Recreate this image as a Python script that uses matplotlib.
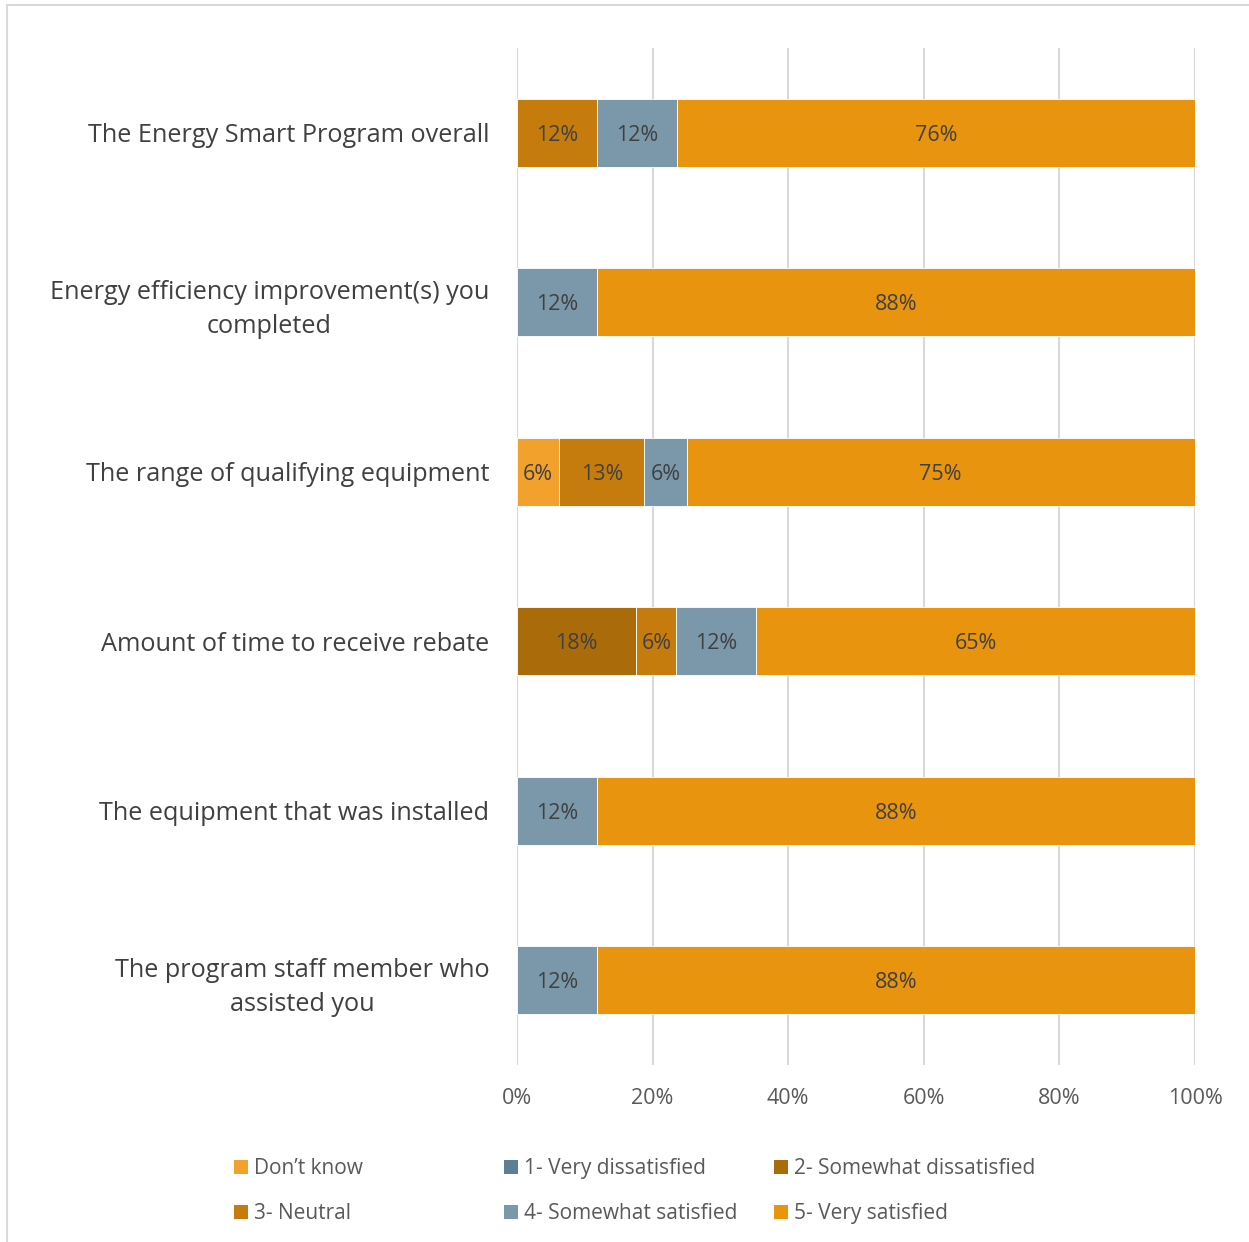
import math
import matplotlib
matplotlib.use("Agg")
import matplotlib.pyplot as plt
from matplotlib.patches import Patch
from matplotlib.lines import Line2D

plt.rcParams['font.family'] = ['Open Sans', 'DejaVu Sans']

# Data (percent of respondents)
categories = [
    "The Energy Smart Program overall",
    "Energy efficiency improvement(s) you\ncompleted",
    "The range of qualifying equipment",
    "Amount of time to receive rebate",
    "The equipment that was installed",
    "The program staff member who\nassisted you",
]
series_names = ["Don\u2019t know", "1- Very dissatisfied", "2- Somewhat dissatisfied",
                "3- Neutral", "4- Somewhat satisfied", "5- Very satisfied"]
dont_know = [0, 0, 6.25, 0, 0, 0]
very_dissatisfied = [0, 0, 0, 0, 0, 0]
somewhat_dissatisfied = [0, 0, 0, 17.6, 0, 0]
neutral = [11.8, 0, 12.5, 5.9, 0, 0]
somewhat_satisfied = [11.8, 11.8, 6.25, 11.8, 11.8, 11.8]
very_satisfied = [76.4, 88.2, 75.0, 64.7, 88.2, 88.2]
xticks = [0, 20, 40, 60, 80, 100]

series = [dont_know, very_dissatisfied, somewhat_dissatisfied,
          neutral, somewhat_satisfied, very_satisfied]
colors = ["#F2A22C", "#5B7F93", "#AA6C0B", "#C67C0D", "#7A98AA", "#E8940F"]

fig = plt.figure(figsize=(12.49, 12.42), dpi=100)
ax = fig.add_axes([517 / 1249, 1 - 1065 / 1242, 678 / 1249, 1017 / 1242])

ypos = list(range(len(categories)))
left = [0.0] * len(categories)
for vals, col in zip(series, colors):
    ax.barh(ypos, vals, left=left, height=0.4, color=col,
            edgecolor="white", linewidth=0.6, zorder=3)
    for i, v in enumerate(vals):
        if v > 0:
            ax.text(left[i] + v / 2, i, f"{int(math.floor(v + 0.5))}%",
                    ha="center", va="center_baseline", fontsize=15.5,
                    color="#404040", zorder=4)
    left = [l + v for l, v in zip(left, vals)]

ax.set_xlim(0, 100)
ax.set_ylim(len(categories) - 0.5, -0.5)
ax.set_xticks(xticks)
ax.set_xticklabels([f"{t}%" for t in xticks])
ax.set_yticks(ypos)
ax.set_yticklabels(categories, fontsize=18.2, color="#404040")
ax.tick_params(axis="x", length=0, pad=16.5, labelsize=15.5, labelcolor="#595959")
ax.tick_params(axis="y", length=0, pad=20)
for lbl in ax.get_yticklabels():
    lbl.set_multialignment("center")
    lbl.set_linespacing(1.45)
ax.grid(axis="x", color="#D9D9D9", linewidth=1.5, zorder=0)
for s in ax.spines.values():
    s.set_visible(False)

# legend in three columns of two entries each
cols = [[0, 3], [1, 4], [2, 5]]
col_x = [234, 504, 774]
for cx, idx in zip(col_x, cols):
    handles = [Patch(facecolor=colors[k], edgecolor="none") for k in idx]
    fig.legend(handles, [series_names[k] for k in idx], loc="upper left",
               bbox_to_anchor=(cx / 1249, 1 - 1158 / 1242), frameon=False,
               fontsize=15, labelcolor="#595959", handlelength=0.65,
               handleheight=0.65, handletextpad=0.3, labelspacing=1.15,
               borderaxespad=0, borderpad=0)

# chart border
fig.add_artist(Line2D([7 / 1249, 7 / 1249], [0, 1 - 5 / 1242], color="#D9D9D9", lw=1.5))
fig.add_artist(Line2D([7 / 1249, 1], [1 - 5 / 1242, 1 - 5 / 1242], color="#D9D9D9", lw=1.5))

fig.savefig("out.png", dpi=100)
